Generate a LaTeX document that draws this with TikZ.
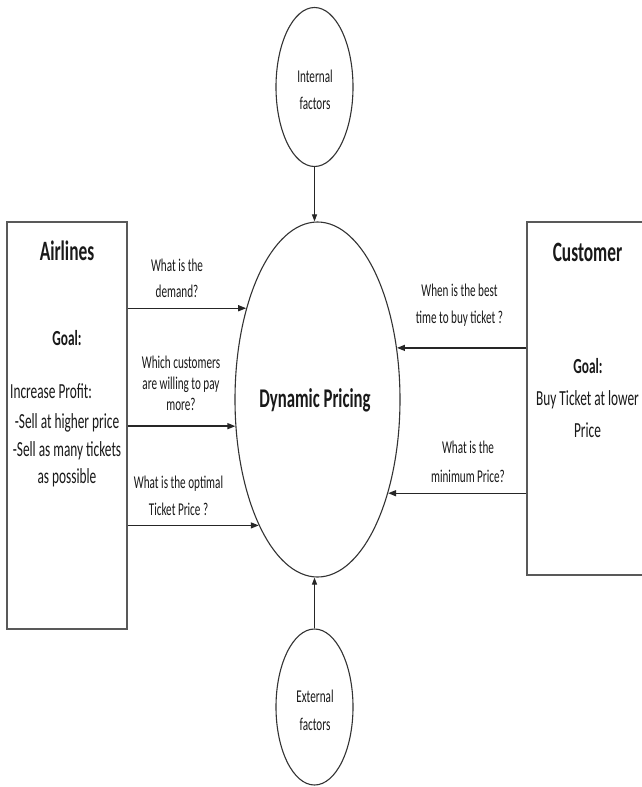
\documentclass[tikz,border=0pt]{standalone}
\usepackage{fontspec}
\setmainfont{Carlito}[FakeStretch=0.62]
\usetikzlibrary{shapes.geometric,arrows.meta}
\begin{document}
\begin{tikzpicture}[x=1pt,y=-1pt,
  txt/.style={inner sep=0pt,anchor=base,text=black!90},
  lbl/.style={txt,font=\fontsize{18}{22}\selectfont},
  body/.style={txt,font=\fontsize{21.5}{26}\selectfont},
  goal/.style={txt,font=\fontsize{21.5}{26}\selectfont\bfseries},
  ttl/.style={txt,font=\fontsize{28}{32}\selectfont\bfseries},
  ell/.style={draw=black!80,line width=1.1pt,ellipse,inner sep=0pt},
  box/.style={draw=black!65,line width=1.5pt,rectangle,inner sep=0pt},
  arr/.style={draw=black!85,line width=1.4pt,-{Triangle[length=8pt,width=6pt]}},
  varr/.style={draw=black!85,line width=0.9pt,-{Triangle[length=7pt,width=5pt]}}]
\clip (0,0) rectangle (642,787);
\fill[white] (0,0) rectangle (642,787);

% shapes
\node[ell,minimum width=77pt,minimum height=159pt] (int) at (314.5,87) {};
\node[ell,minimum width=165pt,minimum height=355pt] (main) at (317.5,399.5) {};
\node[ell,minimum width=77pt,minimum height=156pt] (ext) at (314.5,707) {};
\node[box,minimum width=120pt,minimum height=407pt] (air) at (67,425.5) {};
\node[box,minimum width=133pt,minimum height=353pt] (cus) at (593.5,398.5) {};

% ellipse texts
\node[lbl] (inta) at (315,82) {Internal};
\node[lbl] (intb) at (315,109) {factors};
\node[lbl] (exta) at (315,702) {External};
\node[lbl] (extb) at (315,730) {factors};
\node[txt,font=\fontsize{27}{32}\selectfont\bfseries] (dp) at (315,407) {Dynamic Pricing};

% airlines
\node[ttl] (airt) at (67,260) {Airlines};
\node[goal] (airg) at (67,345) {Goal:};
\node[body,anchor=base west] (aira) at (10,398) {Increase Profit:};
\node[body] (airb) at (67,428) {-Sell at higher price};
\node[body] (airc) at (67,456) {-Sell as many tickets};
\node[body] (aird) at (67,483) {as possible};

% customer
\node[ttl] (cust) at (587.5,261) {Customer};
\node[goal] (cusg) at (588,373) {Goal:};
\node[body] (cusa) at (587.5,405) {Buy Ticket at lower};
\node[body] (cusb) at (587.5,437) {Price};

% left labels
\node[lbl] (q1a) at (177,271.5) {What is the};
\node[lbl] (q1b) at (177,297) {demand?};
\node[lbl] (q2a) at (181,368) {Which customers};
\node[lbl] (q2b) at (181,389.5) {are willing to pay};
\node[lbl] (q2c) at (181,410.5) {more?};
\node[lbl] (q3a) at (178.5,488) {What is the optimal};
\node[lbl] (q3b) at (178.5,515) {Ticket Price ?};

% right labels
\node[lbl] (r1a) at (459.5,296) {When is the best};
\node[lbl] (r1b) at (459.5,323) {time to buy ticket ?};
\node[lbl] (r2a) at (468,453) {What is the};
\node[lbl] (r2b) at (468,482) {minimum Price?};

% connectors
\draw[varr] (int.south) -- (int.south |- main.north);
\draw[varr] (ext.north) -- (ext.north |- main.south);
\draw[arr] (air.east |- main.128.9) -- (main.128.9);
\draw[arr] (air.east |- main.198.6) -- (main.198.6);
\draw[arr] (air.east |- main.245.1) -- (main.245.1);
\draw[arr] (cus.west |- main.33.7) -- (main.33.7);
\draw[arr] (cus.west |- main.307.3) -- (main.307.3);
\end{tikzpicture}
\end{document}
